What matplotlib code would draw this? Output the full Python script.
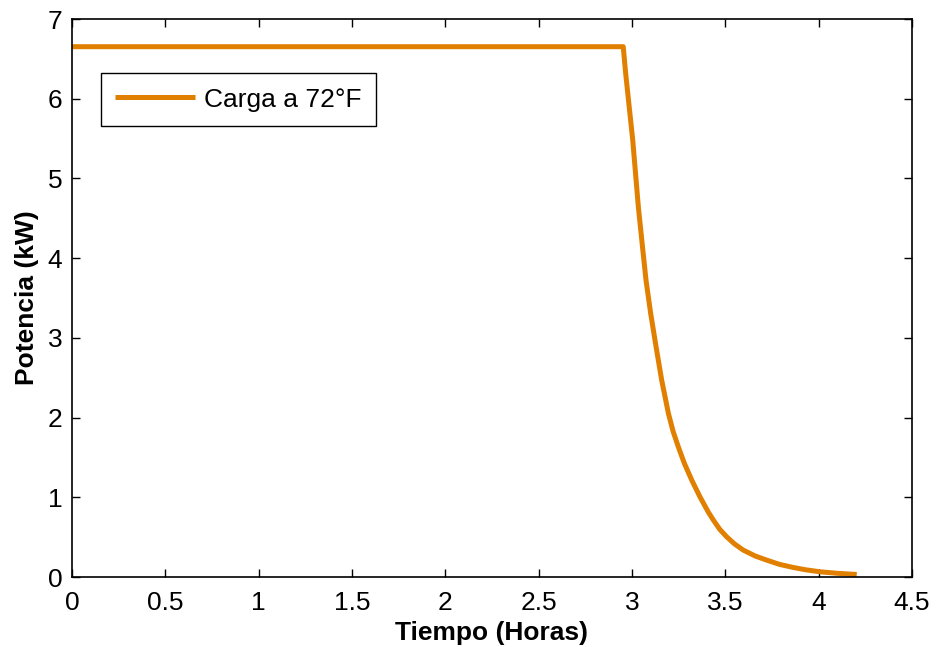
import matplotlib
matplotlib.use("Agg")
import matplotlib.pyplot as plt

# Data
tiempo = [0.0, 2.953, 2.966, 3.004, 3.034, 3.055, 3.075, 3.100, 3.129, 3.159,
          3.195, 3.22, 3.248, 3.28, 3.320, 3.364, 3.409, 3.436, 3.47, 3.507,
          3.55, 3.596, 3.66, 3.722, 3.79, 3.864, 3.93, 4.007, 4.1, 4.204]
potencia = [6.653, 6.653, 6.32, 5.48, 4.645, 4.17, 3.726, 3.308, 2.889, 2.471,
            2.054, 1.83, 1.635, 1.43, 1.217, 1.007, 0.815, 0.715, 0.60, 0.506,
            0.415, 0.339, 0.265, 0.213, 0.16, 0.121, 0.092, 0.067, 0.048,
            0.033]
serie = "Carga a 72°F"
xticks = [0, 0.5, 1, 1.5, 2, 2.5, 3, 3.5, 4, 4.5]
xticklabels = ["0", "0.5", "1", "1.5", "2", "2.5", "3", "3.5", "4", "4.5"]
yticks = [0, 1, 2, 3, 4, 5, 6, 7]

plt.rcParams['font.family'] = ['Liberation Sans', 'DejaVu Sans']

fig = plt.figure(figsize=(9.4, 6.47), dpi=100)
ax = fig.add_axes([0.0766, 0.108, 0.8936, 0.8626])

ax.plot(tiempo, potencia, color='#E17F00', linewidth=3.6, label=serie,
        solid_joinstyle='round', solid_capstyle='butt')

ax.set_xlim(0, 4.5)
ax.set_ylim(0, 7)
ax.set_xticks(xticks)
ax.set_xticklabels(xticklabels)
ax.set_yticks(yticks)
ax.tick_params(direction='in', top=True, right=True, length=6, width=1,
               labelsize=19)
ax.tick_params(axis='x', pad=10)
ax.tick_params(axis='y', pad=7)
for s in ax.spines.values():
    s.set_linewidth(1.2)

ax.set_xlabel("Tiempo (Horas)", fontsize=19, fontweight='bold', labelpad=4)
ax.set_ylabel("Potencia (kW)", fontsize=19, fontweight='bold', labelpad=6)

leg = ax.legend(loc='upper left', bbox_to_anchor=(0.0345, 0.903),
                borderaxespad=0, fancybox=False, edgecolor='black',
                framealpha=1, fontsize=19, handlelength=3.0,
                handletextpad=0.35, borderpad=0.55)
leg.get_frame().set_linewidth(1.0)

fig.savefig("out.png", dpi=100)
